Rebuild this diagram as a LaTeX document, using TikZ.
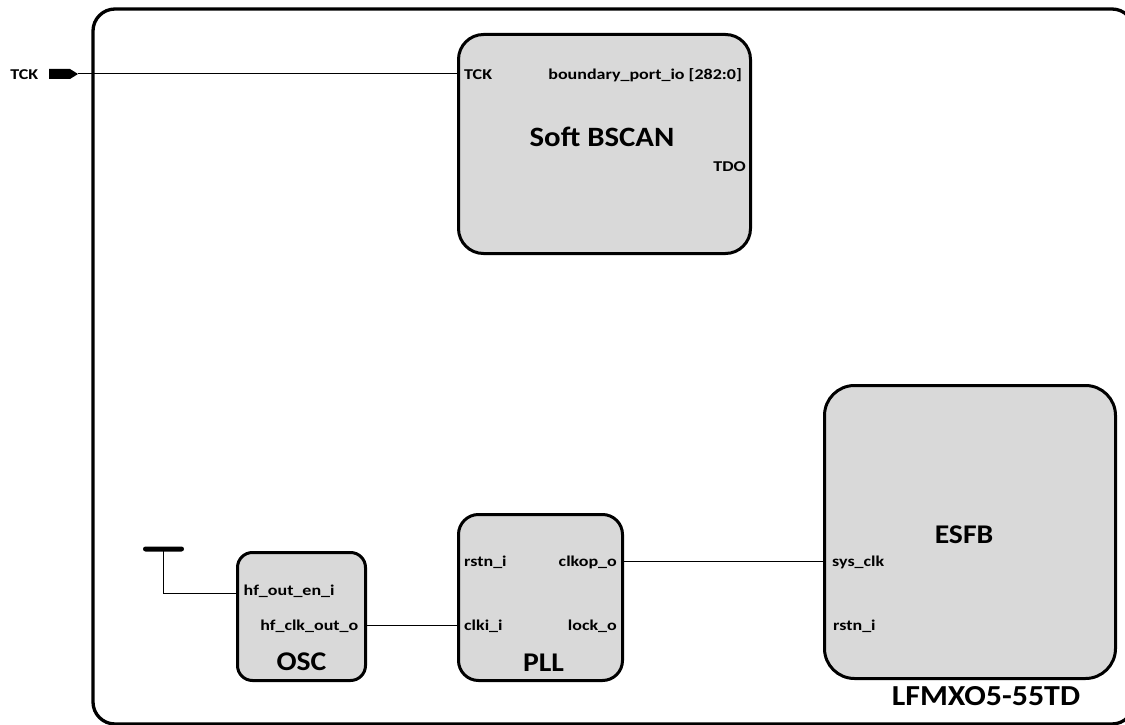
\documentclass[tikz,border=0pt]{standalone}
\usepackage{fontspec}
\setmainfont{Carlito}
\newfontfamily\lblfont[FakeStretch=1.2]{Carlito}
\newfontfamily\ttlfont[FakeStretch=1.1]{Carlito}
\usetikzlibrary{shapes.symbols}
\definecolor{blockgray}{HTML}{D9D9D9}
\tikzset{
  block/.style={draw=black, line width=3pt, fill=blockgray, inner sep=0pt},
  wire/.style={draw=black, line width=1pt},
  portlbl/.style={inner sep=0pt, font=\lblfont\bfseries\fontsize{15}{17}\selectfont},
  title/.style={inner sep=0pt, anchor=base, font=\ttlfont\bfseries\fontsize{27}{31}\selectfont},
}
\begin{document}
\begin{tikzpicture}[x=1pt, y=-1pt]
\useasboundingbox (0,0) rectangle (1125,725);

% device outline, cut by the page edge on the right and bottom
\begin{scope}
  \clip (0,0) rectangle (1125,725);
  \draw[line width=3.3pt, rounded corners=22pt] (93,9) rectangle (1134,724);
\end{scope}

% functional blocks
\node[block, rounded corners=25pt, minimum width=292pt, minimum height=219pt] (bscan) at (604.5,144) {};
\node[block, rounded corners=15pt, minimum width=128pt, minimum height=128pt] (osc) at (301.5,616.5) {};
\node[block, rounded corners=20pt, minimum width=164pt, minimum height=166pt] (pll) at (540.5,597.5) {};
\node[block, rounded corners=30pt, minimum width=291pt, minimum height=293pt] (esfb) at (970,532) {};

% block titles
\node[title, font=\ttlfont\bfseries\fontsize{28}{32}\selectfont] (bscanT) at (602,146) {Soft BSCAN};
\node[title] (oscT) at (301.5,670) {OSC};
\node[title] (pllT) at (543.5,671.5) {PLL};
\node[title] (esfbT) at (964,543.5) {ESFB};
\node[title, font=\ttlfont\bfseries\fontsize{29}{33}\selectfont] (devT) at (986,705) {LFMXO5-55TD};

% Soft BSCAN ports
\node[portlbl, anchor=base west] (bscanTck) at (464,79.3) {TCK};
\node[portlbl, anchor=base east] (bscanBp) at (742,79.3) {boundary\_port\_io [282:0]};
\node[portlbl, anchor=base east] (bscanTdo) at (746,171.7) {TDO};

% OSC ports
\node[portlbl, anchor=base west] (oscEnL) at (243.5,595) {hf\_out\_en\_i};
\node[portlbl, anchor=base east] (oscClkL) at (358.5,630) {hf\_clk\_out\_o};

% PLL ports
\node[portlbl, anchor=base west] (pllRstL) at (464,566) {rstn\_i};
\node[portlbl, anchor=base east] (pllClkoL) at (617,566) {clkop\_o};
\node[portlbl, anchor=base west] (pllClkiL) at (464,630.5) {clki\_i};
\node[portlbl, anchor=base east] (pllLockL) at (617,630.5) {lock\_o};

% ESFB ports
\node[portlbl, anchor=base west] (esfbClkL) at (832,566) {sys\_clk};
\node[portlbl, anchor=base west] (esfbRstL) at (833,630.5) {rstn\_i};

% top-level TCK input pin
\node[fill=black, signal, signal to=east, signal pointer angle=64, inner sep=0pt,
      minimum width=29pt, minimum height=10pt] (tckPin) at (59.5,74) {};
\node[portlbl, anchor=base east] (tckL) at (38.5,79.3) {TCK};

% tie-high bar feeding the oscillator enable
\node[fill=black, rounded corners=2.5pt, inner sep=0pt,
      minimum width=41pt, minimum height=5pt] (vcc) at (163.5,549) {};

% pin positions on block edges
\coordinate (bscanTckP) at (bscan.west |- tckPin.east);
\coordinate (oscEnP)   at (osc.west |- 0,593.3);
\coordinate (oscClkP)  at (osc.east |- 0,625.5);
\coordinate (pllClkiP) at (pll.west |- oscClkP);
\coordinate (pllClkoP) at (pll.east |- 0,561.5);
\coordinate (esfbClkP) at (esfb.west |- pllClkoP);

% connections
\draw[wire] (tckPin.east) -- (bscanTckP);
\draw[wire] (vcc.center) -- (vcc.center |- oscEnP) -- (oscEnP);
\draw[wire] (oscClkP) -- (pllClkiP);
\draw[wire] (pllClkoP) -- (esfbClkP);
\end{tikzpicture}
\end{document}
